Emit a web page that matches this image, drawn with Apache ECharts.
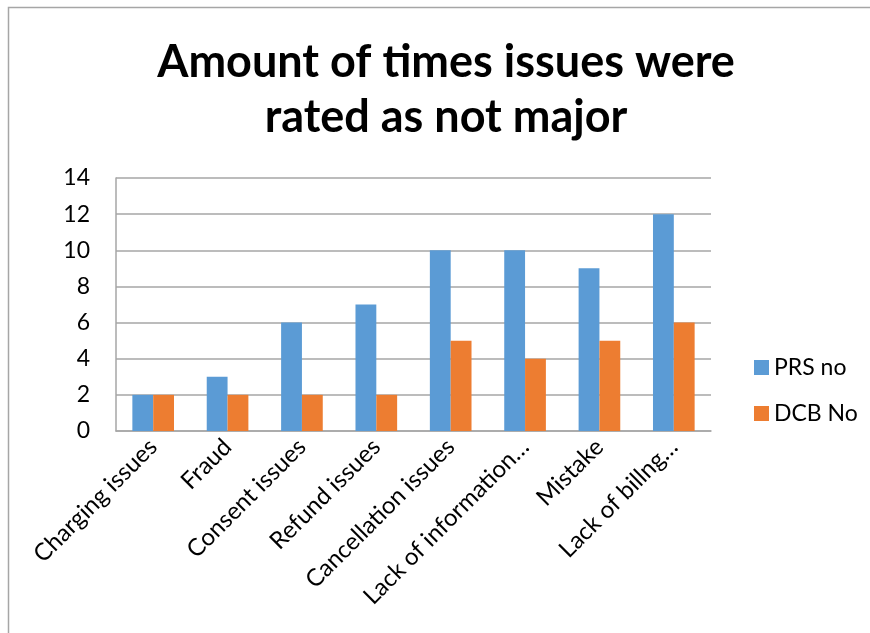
<!DOCTYPE html>
<html>
<head>
<meta charset="utf-8">
<script src="https://cdn.jsdelivr.net/npm/echarts@6/dist/echarts.min.js"></script>
<style>
  html, body { margin: 0; padding: 0; background: #fff; }
  #chart { width: 870px; height: 633px; }
</style>
</head>
<body>
<div id="chart"></div>
<script>
const categories = ['Charging issues', 'Fraud', 'Consent issues', 'Refund issues',
  'Cancellation issues', 'Lack of information…', 'Mistake', 'Lack of billng…']
const prsNo = [2, 3, 6, 7, 10, 10, 9, 12]
const dcbNo = [2, 2, 2, 2, 5, 4, 5, 6]
const yTicks = { min: 0, max: 14, interval: 2 }
const titleText = 'Amount of times issues were\nrated as not major'

const font = 'Lato, "Liberation Sans", sans-serif'
const chart = echarts.init(document.getElementById('chart'))
chart.setOption({
  animation: false,
  textStyle: { fontFamily: font },
  graphic: [{
    type: 'rect',
    shape: { x: 8.5, y: 7.5, width: 900, height: 700 },
    style: { fill: 'none', stroke: '#a6a6a6', lineWidth: 1.5 }
  }, {
    // title drawn as text so it can sit a little right of the canvas centre
    type: 'text',
    x: 446,
    y: 35,
    style: {
      text: titleText,
      align: 'center',
      verticalAlign: 'top',
      fontFamily: font,
      fontSize: 45,
      fontWeight: 'bold',
      lineHeight: 55,
      fill: '#000'
    }
  }],
  legend: {
    orient: 'vertical',
    left: 749,
    top: 351,
    itemWidth: 15,
    itemHeight: 15,
    itemGap: 23,
    icon: 'rect',
    textStyle: { fontSize: 23, color: '#000' },
    data: ['PRS no', 'DCB No']
  },
  grid: { left: 116, right: 159, top: 178, bottom: 202 },
  xAxis: {
    type: 'category',
    data: categories,
    axisTick: { show: false },
    axisLine: { lineStyle: { color: '#a6a6a6', width: 1.5 } },
    axisLabel: { rotate: 45, fontSize: 24, color: '#000', margin: 12, interval: 0 }
  },
  yAxis: {
    type: 'value',
    min: yTicks.min,
    max: yTicks.max,
    interval: yTicks.interval,
    axisLine: { show: true, lineStyle: { color: '#a6a6a6', width: 1.5 } },
    axisTick: { show: false },
    splitLine: { lineStyle: { color: '#a6a6a6', width: 1.5 } },
    axisLabel: { fontSize: 23, color: '#000', margin: 26 }
  },
  series: [
    { name: 'PRS no', type: 'bar', data: prsNo, barGap: '0%', barCategoryGap: '44%',
      itemStyle: { color: '#5b9bd5' } },
    { name: 'DCB No', type: 'bar', data: dcbNo, barGap: '0%', barCategoryGap: '44%',
      itemStyle: { color: '#ed7d31' } }
  ]
})
</script>
</body>
</html>
